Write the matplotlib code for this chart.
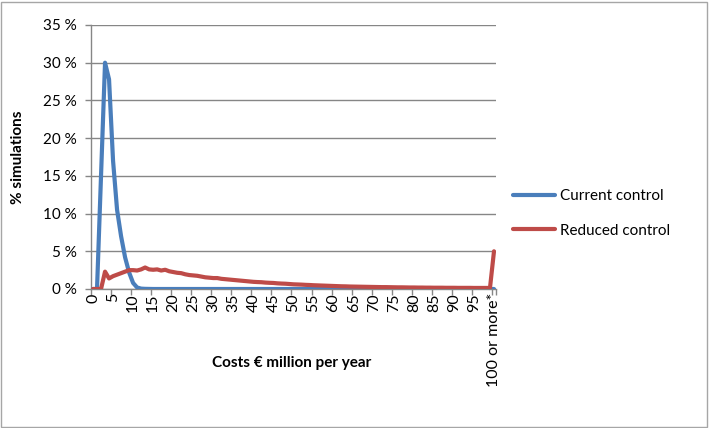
import matplotlib
matplotlib.use("Agg")
import matplotlib.pyplot as plt
from matplotlib.patches import Rectangle
from matplotlib.ticker import FixedLocator, FuncFormatter

plt.rcParams['font.family'] = ['Lato', 'DejaVu Sans']

# Categories: 0..99 and "100 or more*"
categories = list(range(100)) + ["100 or more*"]
tick_labels = [str(v) for v in range(0, 100, 5)] + ["100 or more*"]

current_control = [0, 0, 15.0, 30.0, 27.8, 17.0, 10.5, 7.0, 4.2, 2.2,
                   0.8, 0.2, 0.05, 0.02, 0.01] + [0.0] * 86

reduced_control = [0, 0, 0, 2.3, 1.4, 1.7, 1.9, 2.1, 2.3, 2.5,
                   2.5, 2.45, 2.6, 2.85, 2.6, 2.55, 2.6, 2.45, 2.55, 2.35,
                   2.25, 2.15, 2.1, 1.95, 1.85, 1.8, 1.75, 1.65, 1.55, 1.5,
                   1.45, 1.45, 1.35, 1.3, 1.25, 1.2, 1.15, 1.1, 1.05, 1.0,
                   0.95, 0.92, 0.9, 0.85, 0.82, 0.8, 0.75, 0.72, 0.7, 0.66,
                   0.62, 0.6, 0.58, 0.55, 0.53, 0.5, 0.48, 0.46, 0.44, 0.42,
                   0.4, 0.38, 0.36, 0.35, 0.33, 0.32, 0.31, 0.3, 0.29, 0.28,
                   0.27, 0.26, 0.25, 0.25, 0.24, 0.23, 0.22, 0.22, 0.21, 0.2,
                   0.2, 0.19, 0.19, 0.18, 0.18, 0.17, 0.17, 0.17, 0.16, 0.16,
                   0.16, 0.15, 0.15, 0.15, 0.15, 0.14, 0.14, 0.14, 0.14, 0.14,
                   5.0]

yticks = [0, 5, 10, 15, 20, 25, 30, 35]

W, H = 709, 428
fig = plt.figure(figsize=(W / 100, H / 100), dpi=100)
ax = fig.add_axes([91 / W, 1 - 289 / H, (496 - 91) / W, (289 - 25) / H])

x = list(range(len(categories)))
blue = "#4A7EBB"
red = "#BE4B48"
grid_c = "#868686"

ax.plot(x, current_control, color=blue, lw=3.0, solid_joinstyle='round',
        solid_capstyle='round', label="Current control", zorder=3)
ax.plot(x, reduced_control, color=red, lw=3.0, solid_joinstyle='round',
        solid_capstyle='round', label="Reduced control", zorder=3)

ax.set_xlim(-0.5, len(categories) - 0.5)
ax.set_ylim(0, 35)

ax.set_yticks(yticks)
ax.yaxis.set_major_formatter(FuncFormatter(lambda v, p: f"{int(v)} %"))
ax.grid(axis='y', color=grid_c, lw=1.0)
ax.set_axisbelow(True)

# x: tick marks between categories, labels on categories
label_pos = list(range(0, 100, 5)) + [100]
ax.xaxis.set_major_locator(FixedLocator([p - 0.5 for p in range(0, 101, 5)] + [100.5]))
ax.xaxis.set_major_formatter(FuncFormatter(lambda v, p: ""))
ax.xaxis.set_minor_locator(FixedLocator(label_pos))
ax.set_xticklabels(tick_labels, minor=True, rotation=90)
ax.tick_params(axis='x', which='major', length=4.5, color=grid_c, width=1, direction='out')
ax.tick_params(axis='x', which='minor', length=0, labelsize=11.5, pad=3)
ax.tick_params(axis='y', length=4.5, color=grid_c, width=1, labelsize=11, pad=6)

for s in ['top', 'right']:
    ax.spines[s].set_visible(False)
for s in ['left', 'bottom']:
    ax.spines[s].set_color(grid_c)
    ax.spines[s].set_linewidth(1.0)

fig.text(18 / W, 1 - 157 / H, "% simulations", rotation=90, ha='center', va='center',
         fontsize=11, fontweight='bold')
fig.text(292 / W, 1 - 363 / H, "Costs € million per year", ha='center', va='center',
         fontsize=11, fontweight='bold')

fig.legend(loc='center left', bbox_to_anchor=(513 / W, 1 - 213.5 / H), frameon=False,
           fontsize=11, handlelength=2.75, handletextpad=0.3, labelspacing=1.35,
           borderpad=0, borderaxespad=0)

fig.patches.append(Rectangle((1 / W, 1 / H), (W - 3) / W, (H - 3) / H, transform=fig.transFigure,
                             fill=False, edgecolor="#A6A6A6", lw=1))

fig.savefig("out.png", dpi=100)
